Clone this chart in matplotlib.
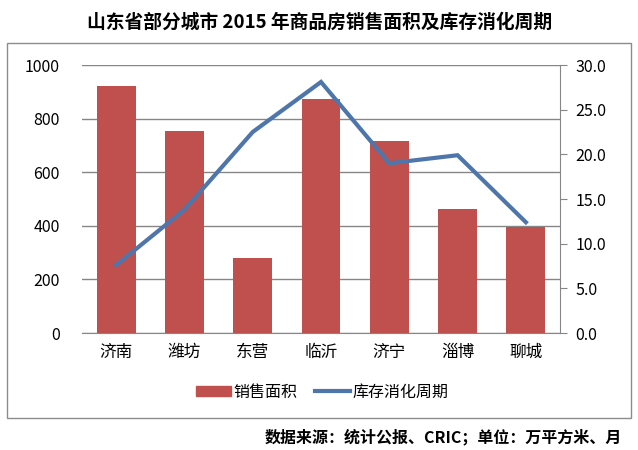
import matplotlib
matplotlib.use("Agg")
import matplotlib.pyplot as plt
from matplotlib.patches import Rectangle
from matplotlib.lines import Line2D
from matplotlib.patches import Patch

plt.rcParams['font.family'] = ['Noto Sans CJK SC', 'DejaVu Sans']

cities = ['济南', '潍坊', '东营', '临沂', '济宁', '淄博', '聊城']
sales_area = [921, 755, 281, 873, 718, 463, 394]
digest_months = [7.6, 13.8, 22.5, 28.1, 19.0, 19.9, 12.4]
left_ticks = [0, 200, 400, 600, 800, 1000]
right_ticks = [0, 5, 10, 15, 20, 25, 30]

bar_color = '#C0504D'
line_color = '#4E76AA'
grid_color = '#868686'

W, H = 638, 450
fig = plt.figure(figsize=(W / 100, H / 100), dpi=100)

# outer chart frame
fig.patches.append(Rectangle((7 / W, 1 - 418 / H), (631 - 7) / W, (418 - 43) / H,
                             transform=fig.transFigure, fill=False,
                             edgecolor='#8c8c8c', linewidth=1.0))

ax = fig.add_axes([82 / W, 1 - 333 / H, (560 - 82) / W, (333 - 65) / H])
x = list(range(len(cities)))
ax.bar(x, sales_area, width=0.57, color=bar_color, zorder=2)
ax.set_xlim(-0.5, len(cities) - 0.5)
ax.set_ylim(0, 1000)
ax.set_yticks(left_ticks)
ax.set_yticklabels([str(v) for v in left_ticks], fontsize=11.5)
ax.set_xticks(x)
ax.set_xticklabels(cities, fontsize=12)
ax.tick_params(axis='x', length=0, pad=8)
ax.tick_params(axis='y', length=0, pad=16)
ax.yaxis.grid(True, color=grid_color, linewidth=1.0, zorder=0)
ax.set_axisbelow(True)
for s in ['top', 'left', 'right']:
    ax.spines[s].set_visible(False)
ax.spines['bottom'].set_color(grid_color)

ax2 = ax.twinx()
ax2.plot(x, digest_months, color=line_color, linewidth=3.0, solid_joinstyle='miter', zorder=3)
ax2.set_ylim(0, 30)
ax2.set_yticks(right_ticks)
ax2.set_yticklabels(['%.1f' % v for v in right_ticks], fontsize=11.5)
ax2.tick_params(axis='y', length=5, color=grid_color, pad=6)
for s in ['top', 'left', 'bottom']:
    ax2.spines[s].set_visible(False)
ax2.spines['right'].set_color(grid_color)

handles = [Patch(color=bar_color, label='销售面积'),
           Line2D([0], [0], color=line_color, linewidth=3.0, label='库存消化周期')]
fig.legend(handles=handles, loc='center', bbox_to_anchor=(322 / W, 1 - 392 / H),
           ncol=2, frameon=False, fontsize=11.5, handlelength=2.2,
           handletextpad=0.15, columnspacing=1.1, handleheight=0.6)

fig.text(320 / W, 1 - 22 / H, '山东省部分城市 2015 年商品房销售面积及库存消化周期',
         ha='center', va='center', fontsize=13.5, fontweight='bold')
fig.text(622 / W, 1 - 437 / H, '数据来源：统计公报、CRIC；单位：万平方米、月',
         ha='right', va='center', fontsize=11.5, fontweight='bold')

fig.savefig('out.png', dpi=100)
